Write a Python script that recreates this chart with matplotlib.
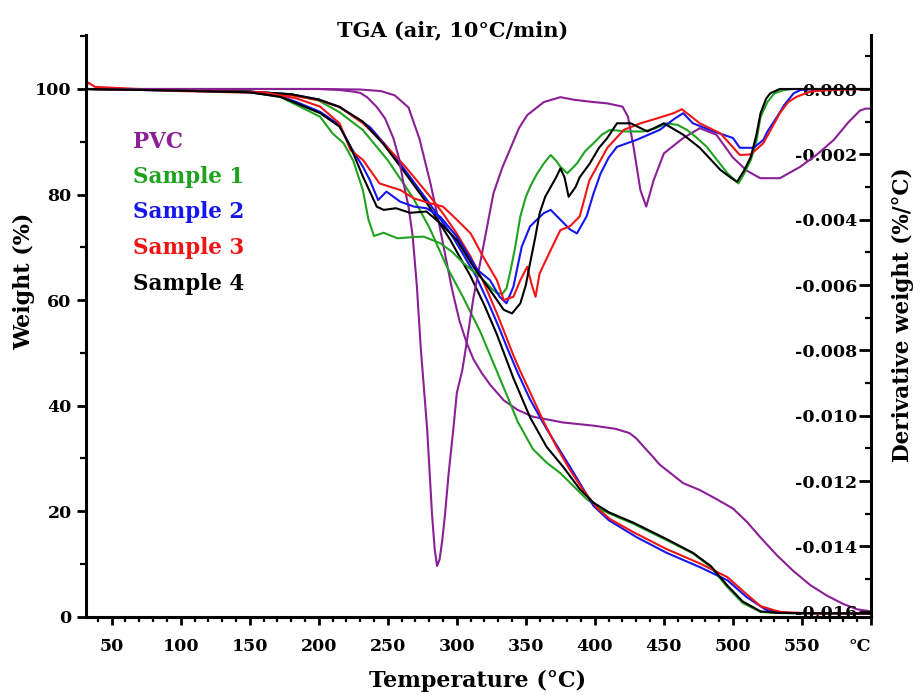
import matplotlib
matplotlib.use("Agg")
import matplotlib.pyplot as plt
from matplotlib.ticker import MultipleLocator

plt.rcParams['font.family'] = ['DejaVu Serif']
plt.rcParams['font.weight'] = 'bold'
plt.rcParams['axes.unicode_minus'] = False

# ---------------- data ----------------
series_names = ["PVC", "Sample 1", "Sample 2", "Sample 3", "Sample 4"]
series_colors = ["#8a1f96", "#1fa31f", "#1515f0", "#f01515", "#000000"]

# TGA (weight %)
pvc_tga_T = [31, 100, 200, 230, 245, 255, 265, 273, 281, 286, 292, 297, 302, 307, 312, 318, 324, 334, 344, 355,
             377, 399, 415, 425, 430, 435, 441, 447, 464, 476, 488, 500, 510, 520, 532, 544, 556, 568, 580, 590, 600]
pvc_tga_W = [100, 100, 100, 99.9, 99.6, 98.8, 96.5, 90.5, 82, 76, 68, 61.5, 56, 52, 48.8, 46.2, 44, 41, 39.2, 37.9,
             36.8, 36.2, 35.6, 34.8, 33.8, 32.3, 30.6, 28.8, 25.3, 24.0, 22.3, 20.5, 18.0, 15.0, 11.6, 8.6, 6.0, 4.0, 2.4, 1.4, 1.0]

s1_tga_T = [31, 100, 150, 180, 200, 215, 232, 250, 268, 280, 293, 305, 317, 329, 337, 344, 355, 365, 375, 394, 405,
            418, 428, 452, 471, 484, 496, 507, 520, 534, 560, 600]
s1_tga_W = [100, 99.8, 99.5, 99.0, 97.8, 95.6, 92.2, 86.5, 79.5, 73.8, 66.2, 60.3, 54, 46.5, 41.5, 37, 31.8, 29.2, 27.2,
            22.3, 20.2, 18.7, 17.6, 14.5, 12.0, 9.4, 5.6, 2.6, 0.9, 0.7, 0.6, 0.6]

s2_tga_T = [31, 100, 150, 180, 200, 215, 237, 249, 260, 280, 297, 314, 324, 331, 337, 344, 353, 365, 382, 399, 410,
            430, 452, 476, 496, 510, 524, 540, 600]
s2_tga_W = [100, 99.8, 99.5, 99.0, 98.0, 96.6, 92.8, 89.2, 85.5, 78.4, 72, 64.5, 58.8, 54.5, 50.6, 46.3, 41.2, 35.6,
            28.4, 21.0, 18.3, 15.1, 12.1, 9.4, 6.9, 3.7, 1.3, 0.7, 0.6]

s3_tga_T = [31, 33, 38, 100, 150, 180, 200, 215, 232, 244, 262, 281, 290, 300, 310, 319, 329, 334, 341, 346, 351, 357,
            363, 372, 382, 392, 402, 411, 428, 452, 476, 496, 508, 520, 534, 560, 600]
s3_tga_W = [100, 101.2, 100.4, 99.6, 99.3, 98.8, 97.9, 96.6, 93.5, 90.5, 85.5, 79.5, 76.4, 72.6, 68.2, 63.6, 57.5, 54.2,
            49.5, 46.5, 43.7, 40.3, 36.9, 32.3, 27.8, 23.8, 20.5, 18.5, 16.0, 12.8, 10.1, 7.5, 4.7, 2.0, 0.9, 0.6, 0.6]

s4_tga_T = [31, 100, 150, 180, 200, 215, 232, 247, 260, 278, 295, 310, 320, 329, 341, 353, 365, 377, 389, 399, 410,
            428, 452, 471, 484, 496, 507, 520, 534, 600]
s4_tga_W = [100, 99.8, 99.5, 99.0, 98.0, 96.6, 93.8, 89.5, 85, 78.5, 71.5, 64.5, 59, 53.5, 45.2, 37.8, 32.2, 28.4,
            24.2, 21.6, 19.8, 17.8, 14.7, 12.1, 9.6, 5.9, 2.9, 1.0, 0.7, 0.6]

# DTG (derivative weight)
pvc_dtg_T = [31, 100, 200, 215, 225, 230, 235, 242, 248, 254, 258, 261, 265, 268, 271, 274, 278.5, 282, 284, 285.7,
             287.5, 289.5, 291.5, 294, 297.5, 300, 304, 307, 312, 317, 322, 326.5, 333, 339, 345, 351, 357, 363, 375,
             385, 399, 409, 420, 424, 428, 433, 437.2, 442.5, 450, 464, 476, 488, 500, 510, 519.8, 534, 548.8, 561,
             573, 584, 592, 596, 600]
pvc_dtg_D = [0, 0, 0, -0.00003, -0.00008, -0.00012, -0.00025, -0.00055, -0.0009, -0.0015, -0.0021, -0.0028, -0.0036,
             -0.0045, -0.006, -0.008, -0.0104, -0.0130, -0.0141, -0.0146, -0.0144, -0.0138, -0.0130, -0.0118, -0.0104,
             -0.0093, -0.0086, -0.0078, -0.0064, -0.0053, -0.0042, -0.0032, -0.0024, -0.0018, -0.0012, -0.0008,
             -0.0006, -0.0004, -0.00025, -0.00033, -0.0004, -0.00044, -0.00054, -0.00085, -0.00177, -0.0031, -0.0036,
             -0.0028, -0.00197, -0.0015, -0.0012, -0.0014, -0.0021, -0.0025, -0.00273, -0.00273, -0.00238, -0.002,
             -0.00156, -0.001, -0.00066, -0.0006, -0.0006]

s1_dtg_T = [31, 100, 150, 172, 184, 201, 210, 218, 225, 232, 236, 240, 247, 257, 269, 276, 288, 297, 305, 317, 325,
            329, 333, 336, 339, 342, 346, 350, 353, 358, 363, 368, 372, 375, 380, 387, 393, 399, 405, 411, 423, 435,
            444, 452, 460, 467, 474, 481, 489, 496, 504, 508, 513, 517, 520, 525, 530, 537, 544, 560, 600]
s1_dtg_D = [0, -0.00005, -0.0001, -0.00024, -0.00049, -0.00085, -0.00136, -0.00166, -0.0022, -0.0031, -0.0040,
            -0.0045, -0.0044, -0.00457, -0.00453, -0.00452, -0.00472, -0.005, -0.00534, -0.00575, -0.0061, -0.00625,
            -0.00627, -0.0061, -0.00554, -0.0049, -0.0039, -0.0033, -0.003, -0.0026, -0.00228, -0.00202, -0.0022,
            -0.00238, -0.00258, -0.00228, -0.0019, -0.00166, -0.0014, -0.00125, -0.0013, -0.0013, -0.0012, -0.00105,
            -0.0011, -0.00126, -0.0015, -0.00177, -0.0022, -0.00258, -0.00289, -0.0026, -0.00217, -0.0016, -0.00085,
            -0.0004, -0.00013, -0.00003, 0, 0, 0]

s2_dtg_T = [31, 100, 150, 172, 184, 201, 215, 223, 232, 237, 243, 249, 259, 269, 278, 288, 300, 315, 324, 331, 336,
            341, 347, 353, 358, 363, 368, 375, 382, 387, 394, 399, 404, 410, 416, 430, 447, 458, 464, 471, 486, 500,
            505, 515, 522, 525, 532, 537, 544, 549, 560, 600]
s2_dtg_D = [0, -0.00005, -0.0001, -0.00022, -0.0004, -0.0007, -0.0011, -0.00177, -0.00238, -0.00279, -0.0034,
            -0.00314, -0.00345, -0.0036, -0.00365, -0.00391, -0.00452, -0.00554, -0.00585, -0.00636, -0.00656,
            -0.00605, -0.00483, -0.00421, -0.0040, -0.0038, -0.0037, -0.004, -0.0043, -0.00442, -0.0039, -0.0032,
            -0.0026, -0.0021, -0.00177, -0.00156, -0.00125, -0.0009, -0.00074, -0.00105, -0.0013, -0.0015, -0.0018,
            -0.0018, -0.00156, -0.0013, -0.00085, -0.0005, -0.00013, -0.00003, 0, 0]

s3_dtg_T = [31, 100, 160, 184, 201, 215, 223, 232, 244, 252, 259, 269, 281, 290, 300, 310, 319, 329, 334, 338, 341,
            346, 351, 354, 357, 360, 368, 375, 382, 389, 396, 409, 421, 433, 445, 457, 463, 476, 491, 505, 513, 522,
            528, 534, 540, 546, 556, 570, 600]
s3_dtg_D = [0, -0.00005, -0.0001, -0.00029, -0.00054, -0.00105, -0.00187, -0.00217, -0.00289, -0.003, -0.00309,
            -0.00335, -0.0035, -0.0036, -0.004, -0.00442, -0.00513, -0.00585, -0.00646, -0.0064, -0.00636, -0.00585,
            -0.00544, -0.00595, -0.00636, -0.00564, -0.00493, -0.00432, -0.0042, -0.0039, -0.0028, -0.0018, -0.00125,
            -0.00105, -0.0009, -0.00074, -0.00062, -0.00105, -0.00136, -0.00202, -0.002, -0.00166, -0.0012, -0.00074,
            -0.0004, -0.00024, -0.00008, -0.00003, 0]

s4_dtg_T = [31, 100, 150, 172, 184, 201, 215, 223, 232, 242, 247, 256, 266, 278, 288, 300, 312, 324, 334, 340, 346,
            350, 353, 357, 360, 364, 368, 372, 375, 378, 381, 386, 389, 396, 403, 409, 416, 426, 438, 450, 464, 476,
            491, 498, 503, 508, 513, 517, 520, 524, 527, 534, 560, 600]
s4_dtg_D = [0, -0.00005, -0.0001, -0.00024, -0.00044, -0.00074, -0.00115, -0.00177, -0.00268, -0.0036, -0.0037,
            -0.00365, -0.00379, -0.00375, -0.00411, -0.00462, -0.00544, -0.00615, -0.00676, -0.00687, -0.00656,
            -0.006, -0.00534, -0.0045, -0.0038, -0.0033, -0.003, -0.0027, -0.00243, -0.0027, -0.0033, -0.003,
            -0.0027, -0.0023, -0.0018, -0.0015, -0.00105, -0.00105, -0.0013, -0.00105, -0.0014, -0.0018, -0.00248,
            -0.0027, -0.00284, -0.0025, -0.00207, -0.0014, -0.00074, -0.0003, -0.00013, 0, 0, 0]

tga_T = [pvc_tga_T, s1_tga_T, s2_tga_T, s3_tga_T, s4_tga_T]
tga_W = [pvc_tga_W, s1_tga_W, s2_tga_W, s3_tga_W, s4_tga_W]
dtg_T = [pvc_dtg_T, s1_dtg_T, s2_dtg_T, s3_dtg_T, s4_dtg_T]
dtg_D = [pvc_dtg_D, s1_dtg_D, s2_dtg_D, s3_dtg_D, s4_dtg_D]

x_major = [50, 100, 150, 200, 250, 300, 350, 400, 450, 500, 550, 600]
x_labels = ["50", "100", "150", "200", "250", "300", "350", "400", "450", "500", "550", "°C"]
left_ticks = [0, 20, 40, 60, 80, 100]
right_ticks = [-0.016, -0.014, -0.012, -0.010, -0.008, -0.006, -0.004, -0.002, 0.000]

# ---------------- figure ----------------
W_PX, H_PX = 921, 695
fig = plt.figure(figsize=(W_PX / 100, H_PX / 100), dpi=100)
ax = fig.add_axes([86 / W_PX, 1 - 616.7 / H_PX, 785 / W_PX, (616.7 - 35) / H_PX])
ax2 = ax.twinx()

lw = 1.5
for T, W, c in zip(tga_T, tga_W, series_colors):
    ax.plot(T, W, color=c, lw=lw, solid_joinstyle='round')
for T, D, c in zip(dtg_T, dtg_D, series_colors):
    ax2.plot(T, D, color=c, lw=lw, solid_joinstyle='round')

ax.set_xlim(31.4, 600)
ax.set_ylim(0, 110.23)
ax2.set_ylim(-0.016153, 0.001653)

for a in (ax, ax2):
    a.spines['top'].set_visible(False)
ax.spines['right'].set_visible(False)
ax2.spines['left'].set_visible(False)
ax2.spines['bottom'].set_visible(False)
for s in ('left', 'bottom'):
    ax.spines[s].set_linewidth(2.2)
ax2.spines['right'].set_linewidth(2.2)

ax.set_xticks(x_major)
ax.set_xticklabels(x_labels)
ax.xaxis.set_minor_locator(MultipleLocator(10))
ax.set_yticks(left_ticks)
ax.yaxis.set_minor_locator(MultipleLocator(10))
ax.tick_params(axis='x', which='major', direction='out', length=6, width=2, pad=9, labelsize=12.5)
ax.tick_params(axis='x', which='minor', direction='out', length=3.6, width=1.6)
ax.tick_params(axis='y', which='major', direction='out', length=6.5, width=2, pad=3.8, labelsize=12.5)
ax.tick_params(axis='y', which='minor', direction='out', length=4.3, width=1.6)
ax.get_xticklabels()[-1].set_horizontalalignment('right')

ax2.set_yticks(right_ticks)
ax2.set_yticklabels(["%.3f" % v if v != 0 else "0.000" for v in right_ticks])
ax2.yaxis.set_minor_locator(MultipleLocator(0.001))
ax2.tick_params(axis='y', which='major', direction='in', length=9, width=2, pad=-10, labelsize=12.5)
ax2.tick_params(axis='y', which='minor', direction='in', length=4.3, width=1.6)
for lbl in ax2.get_yticklabels():
    lbl.set_horizontalalignment('right')

# texts
fig.text(453 / W_PX, 1 - 36.7 / H_PX, "TGA (air, 10°C/min)", ha='center', va='baseline',
         fontsize=15, fontweight='bold')
fig.text(24 / W_PX, 1 - 281.5 / H_PX, "Weight (%)", rotation=90, ha='center', va='center',
         fontsize=16, fontweight='bold')
fig.text(477.5 / W_PX, 1 - 687 / H_PX, "Temperature (°C)", ha='center', va='baseline',
         fontsize=16, fontweight='bold')
fig.text(903 / W_PX, 1 - 315 / H_PX, "Derivative weight (%/°C)", rotation=90, ha='center', va='center',
         fontsize=15.5, fontweight='bold')

legend_baselines = [148, 183, 218, 254, 290]
for name, c, yb in zip(series_names, series_colors, legend_baselines):
    fig.text(133 / W_PX, 1 - yb / H_PX, name, color=c, ha='left', va='baseline',
             fontsize=15.5, fontweight='bold')

fig.savefig("out.png", dpi=100)
